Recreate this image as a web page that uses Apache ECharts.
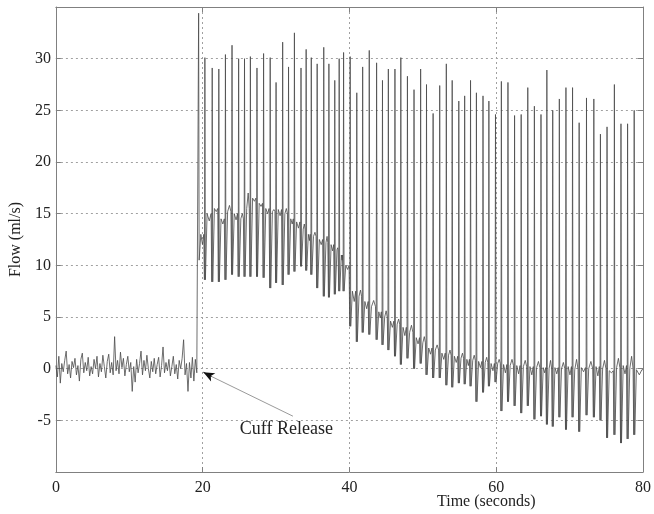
<!DOCTYPE html>
<html><head><meta charset="utf-8">
<script src="https://cdn.jsdelivr.net/npm/echarts@6/dist/echarts.min.js"></script>
<style>html,body{margin:0;padding:0;background:#fff}#c{width:654px;height:514px}</style>
</head><body><div id="c"></div><script>
// ---- data ----
const sampleStep = 0.2; // seconds between pre-release samples
const preReleaseFlow = [0.3,-0.8,1.2,-1.4,0.5,-0.3,0.8,1.7,-0.5,0.4,-0.9,0.7,0.1,1.0,-0.6,0.3,-1.2,0.9,1.5,-0.4,
  0.6,-0.2,1.1,-0.7,0.2,-0.5,0.9,0.0,1.2,-0.8,0.5,-0.3,1.3,0.2,-0.9,0.7,1.4,-0.4,0.6,-0.6,
  3.1,-0.2,0.8,-0.5,1.6,0.1,1.0,-0.7,0.4,1.2,-0.3,0.6,-2.2,0.2,-1.3,0.9,-0.4,0.5,1.7,-0.6,
  0.8,-0.2,1.3,0.0,-0.9,0.7,-0.3,1.0,-0.5,0.4,1.1,-0.8,0.3,2.1,-0.4,0.6,-0.2,0.9,-0.7,0.2,
  1.2,-0.5,0.4,-1.0,0.8,0.0,1.0,2.8,-0.6,0.5,-2.2,0.6,-0.9,1.1,-1.2,0.9,-0.4];
const beatTimes = [19.45,20.3,21.3,22.2,23.1,24.0,24.9,25.7,26.5,27.4,28.3,29.2,30.0,30.9,31.7,32.5,33.4,34.1,34.8,35.6,
  36.5,37.2,38.0,38.6,39.2,40.1,41.0,41.8,42.7,43.7,44.5,45.3,46.2,47.0,47.9,48.8,49.7,50.5,51.4,52.3,
  53.2,54.0,54.9,55.7,56.5,57.3,58.2,59.0,59.9,60.7,61.6,62.5,63.4,64.3,65.2,66.1,66.9,67.7,68.6,69.5,
  70.4,71.3,72.3,73.3,74.2,75.1,76.1,77.0,77.9,78.8];
const beatPeaks = [34.4,30.1,29.1,29.0,30.4,31.3,30.0,30.0,30.2,29.1,30.5,30.1,27.7,31.6,29.2,32.5,29.1,30.9,30.1,29.5,
  31.1,29.5,27.9,30.0,30.6,30.2,26.7,29.2,30.8,29.6,27.9,29.0,29.0,30.1,28.3,27.0,29.0,27.5,24.7,27.4,
  29.5,27.9,25.9,26.4,27.9,26.7,26.4,25.9,24.6,27.8,27.7,24.5,24.6,27.2,25.4,24.6,28.9,25.0,26.1,27.2,
  27.2,23.8,26.2,26.1,22.7,23.4,27.5,23.7,23.7,25.0];
const beatTroughs = [10.5,8.6,8.4,8.4,8.6,9.1,8.9,8.9,8.9,8.9,8.8,7.8,8.3,8.1,9.1,9.4,9.9,9.5,9.1,7.8,
  7.0,6.9,7.2,7.5,7.5,4.1,2.6,3.5,3.3,2.8,2.3,1.8,1.2,0.4,1.0,0.0,0.5,-0.6,-0.9,-0.9,
  -1.6,-1.8,-1.4,-1.5,-1.7,-3.2,-2.3,-1.7,-1.3,-4.1,-3.2,-3.6,-4.3,-3.6,-4.9,-4.6,-5.4,-5.6,-4.7,-5.9,
  -4.7,-6.1,-4.5,-4.7,-5.0,-6.7,-6.4,-7.2,-6.8,-6.4];
const beatPlateaus = [13,15,15.5,14.5,15.2,15,14.5,15.5,16.5,16,15.5,15.2,
  15.4,15,14.5,14.2,13.5,13,12.8,12.5,12.2,12,11.5,11,10,
  7.5,7,6.5,6,5.5,5,4.6,4.3,
  4,3.5,3,2.5,2,1.8,1.5,
  1.3,1.2,1.0,0.9,0.8,0.7,0.6,0.5,0.5,
  0.4,0.3,0.3,0.2,0.2,0.1,0.1,0.0,0.1,0.0,0.2,-0.1,0.1,0.0,0.2,0.0,-0.2,0.1,0.3,0.0,-0.1];
// second level inside each inter-beat interval (dark blobs / noisy band)
const beatBlobs = [12,14.3,15.2,14.0,15.8,14.4,15.0,17.0,16.2,15.7,15.0,15.4,
  14.8,15.5,14.0,13.6,14.0,12.4,13.2,12.0,12.8,11.4,11.7,10.5,9.6,
  6.5,7.6,5.8,6.6,4.9,5.6,4.0,4.8,
  3.2,4.2,2.4,3.1,1.4,2.3,0.9,
  1.8,0.6,1.5,0.3,1.3,0.1,1.1,-0.2,0.9,
  -0.4,0.9,-0.5,0.8,-0.6,0.7,-0.4,0.8,-0.5,0.6,-0.6,0.9,-0.3,0.7,-0.7,0.8,-0.4,1.0,-0.5,1.2,-0.6];
const xTicks = [0,20,40,60,80];
const yTickLabels = [-5,0,5,10,15,20,25,30];
const xName = 'Time (seconds)';
const yName = 'Flow (ml/s)';
const annotation = 'Cuff Release';

// ---- build the trace from the read values ----
const flow = [];
preReleaseFlow.forEach((v,i)=>flow.push([+(i*sampleStep).toFixed(2), v]));
beatTimes.forEach((t,i)=>{
  const prev = i===0 ? preReleaseFlow[preReleaseFlow.length-1] : beatPlateaus[i-1];
  if (i>0) flow.push([t-0.06, beatTroughs[i]]);
  else flow.push([t-0.05, prev]);
  flow.push([t, beatPeaks[i]]);
  flow.push([t+0.07, beatTroughs[i]]);
  flow.push([t+0.3, beatPlateaus[i]]);
  const next = i+1<beatTimes.length ? beatTimes[i+1] : 80;
  flow.push([(t+next)/2+0.1, beatBlobs[i]]);
  flow.push([next-0.15, beatPlateaus[i]]);
});
flow.push([80, beatPlateaus[beatPlateaus.length-1]]);

const FONT = 'Liberation Serif';
const gridLine = {show:true, lineStyle:{color:'#a0a0a0', width:1, type:[2,3]}};
const boxLine = {show:true, onZero:false, lineStyle:{color:'#808080', width:1}};
const tick = {show:true, inside:true, length:5, lineStyle:{color:'#808080'}};
const chart = echarts.init(document.getElementById('c'), null, {renderer:'canvas'});
chart.setOption({
  animation:false,
  backgroundColor:'#fff',
  grid:{left:52, right:8, top:7, bottom:42, show:false},
  xAxis:[{
    type:'value', min:xTicks[0], max:xTicks[xTicks.length-1], interval:20, position:'bottom',
    axisLine:boxLine, axisTick:tick,
    axisLabel:{color:'#222', fontFamily:FONT, fontSize:16, margin:8},
    splitLine:gridLine
  },{
    type:'value', min:xTicks[0], max:xTicks[xTicks.length-1], interval:20, position:'top',
    axisLine:boxLine, axisTick:tick,
    axisLabel:{show:false}, splitLine:{show:false}
  }],
  yAxis:[{
    type:'value', min:-10, max:35, interval:5, position:'left',
    name:yName, nameLocation:'middle', nameGap:26, nameRotate:90,
    nameTextStyle:{color:'#222', fontFamily:FONT, fontSize:16},
    axisLine:boxLine, axisTick:tick,
    axisLabel:{color:'#222', fontFamily:FONT, fontSize:16, margin:5,
      formatter:v=> yTickLabels.indexOf(v)>=0 ? String(v) : ''},
    splitLine:gridLine
  },{
    type:'value', min:-10, max:35, interval:5, position:'right',
    axisLine:boxLine, axisTick:tick,
    axisLabel:{show:false}, splitLine:{show:false}
  }],
  graphic:[{type:'text', left:437, top:494, silent:true,
    style:{text:xName, fill:'#222', font:'16px "Liberation Serif"'}}],
  series:[{
    type:'line', data:flow, xAxisIndex:0, yAxisIndex:0,
    showSymbol:false, symbol:'none', silent:true,
    lineStyle:{color:'#4a4a4a', width:0.8},
    markLine:{silent:true, animation:false, label:{show:false},
      data:[
        [{coord:[32.3,-4.6], symbol:'none', lineStyle:{color:'#9a9a9a', width:1, type:'solid'}},
         {coord:[20.9,-0.65], symbol:'none'}],
        [{coord:[21.2,-0.75], symbol:'none', lineStyle:{color:'#111', width:1, type:'solid'}},
         {coord:[20.1,-0.35], symbol:'arrow', symbolSize:[7,11]}]
      ]},
    markPoint:{silent:true, animation:false,
      data:[{coord:[31.4,-5.9], symbol:'circle', symbolSize:0,
        label:{show:true, position:'inside', formatter:annotation, color:'#222',
          fontFamily:FONT, fontSize:18}}]}
  }]
});
</script></body></html>
